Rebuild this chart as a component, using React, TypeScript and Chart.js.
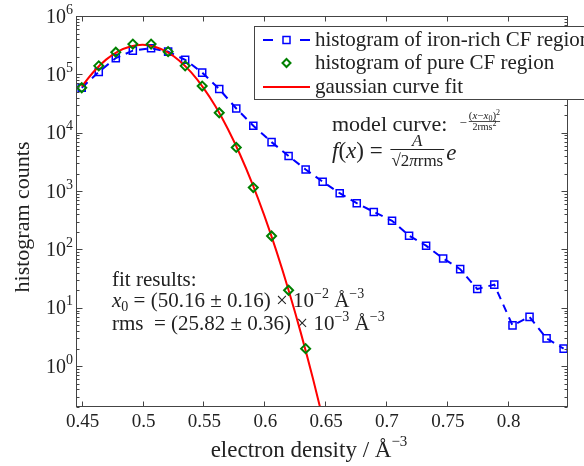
import React, { useEffect, useRef } from "react";
import { Chart, registerables } from "chart.js";

Chart.register(...registerables);

// ---- data ----
const binCenters = [
  0.450, 0.464, 0.478, 0.492, 0.507, 0.521, 0.535, 0.549, 0.563, 0.577,
  0.591, 0.606, 0.620, 0.634, 0.648, 0.662, 0.676, 0.690, 0.705, 0.719,
  0.733, 0.747, 0.761, 0.775, 0.789, 0.804, 0.818, 0.832, 0.846,
];
const ironRichCounts = [
  59000, 110000, 190000, 255000, 280000, 245000, 178000, 107000, 56000, 26000,
  13200, 6900, 4000, 2350, 1450, 920, 620, 440, 310, 172,
  116, 70, 46, 21, 25, 5, 7, 3, 2,
];
const pureCounts = [
  59000, 140000, 240000, 330000, 330000, 245000, 140000, 63000, 22000, 5600,
  1150, 170, 20, 2,
];
const fitX = [
  0.45, 0.46, 0.47, 0.48, 0.49, 0.5, 0.51, 0.52, 0.53, 0.54, 0.55,
  0.56, 0.57, 0.58, 0.59, 0.6, 0.61, 0.62, 0.63, 0.64, 0.65,
];
const fitY = [
  62000, 112000, 179000, 248000, 301000, 321000, 298000, 243000, 173000, 108000, 58700,
  28100, 11700, 4280, 1370, 383, 93.5, 20.0, 3.76, 0.615, 0.088,
];
const xTicks = [0.45, 0.5, 0.55, 0.6, 0.65, 0.7, 0.75, 0.8];
const xTickLabels = ["0.45", "0.5", "0.55", "0.6", "0.65", "0.7", "0.75", "0.8"];
const yTickExponents = [0, 1, 2, 3, 4, 5, 6];

const legendLabels = [
  "histogram of iron-rich CF region",
  "histogram of pure CF region",
  "gaussian curve fit",
];

const X_MIN = 0.4453;
const X_MAX = 0.8496;
const Y_MIN = 0.2;
const Y_MAX = 1e6;

const BLUE = "#0000ff";
const GREEN = "#008000";
const RED = "#ff0000";
const TEXT = "#222222";
const FRAME = "#444444";
const SERIF = '"Liberation Serif", "Times New Roman", serif';

type Part = [string, number, number, boolean?];

function fnt(size: number, italic?: boolean) {
  return `${italic ? "italic " : ""}${size}px ${SERIF}`;
}
function partsWidth(ctx: CanvasRenderingContext2D, parts: Part[]) {
  let w = 0;
  for (const [t, s, , it] of parts) {
    ctx.font = fnt(s, it);
    w += ctx.measureText(t).width;
  }
  return w;
}
function drawParts(ctx: CanvasRenderingContext2D, x: number, y: number, parts: Part[]) {
  let cx = x;
  for (const [t, s, dy, it] of parts) {
    ctx.font = fnt(s, it);
    ctx.fillText(t, cx, y + dy);
    cx += ctx.measureText(t).width;
  }
  return cx;
}

const decorPlugin = {
  id: "decor",
  beforeDatasetsDraw(chart: any) {
    const ctx: CanvasRenderingContext2D = chart.ctx;
    ctx.save();
    ctx.fillStyle = TEXT;
    ctx.textAlign = "left";
    ctx.textBaseline = "alphabetic";
    // model curve annotation
    drawParts(ctx, 332, 131, [["model curve:", 22, 0]]);
    let cx = drawParts(ctx, 332, 158, [
      ["f", 23, 0, true],
      ["(", 23, 0],
      ["x", 23, 0, true],
      [")", 23, 0],
      [" = ", 23, 0],
    ]);
    // fraction A / (sqrt(2 pi) rms)
    const denom: Part[] = [["√", 17, 0], ["2", 17, 0], ["π", 17, 0, true], ["rms", 17, 0]];
    const dw = partsWidth(ctx, denom);
    const fx = cx + 2;
    ctx.fillRect(fx, 149, dw + 2, 1);
    const num: Part[] = [["A", 17, 0, true]];
    const aw = partsWidth(ctx, num);
    drawParts(ctx, fx + (dw + 2 - aw) / 2, 146, num);
    drawParts(ctx, fx + 1, 166, denom);
    cx = fx + dw + 4;
    cx = drawParts(ctx, cx, 160, [["e", 23, 0, true]]);
    cx = drawParts(ctx, cx + 3, 127, [["−", 13, 0]]);
    const top: Part[] = [["(", 11, 0], ["x", 11, 0, true], ["−", 11, 0], ["x", 11, 0, true], ["0", 8, 2], [")", 11, 0], ["2", 8, -4]];
    const bot: Part[] = [["2rms", 10, 0], ["2", 8, -4]];
    const tw = partsWidth(ctx, top);
    const bw = partsWidth(ctx, bot);
    const sx = cx + 2;
    ctx.fillRect(sx, 121, Math.max(tw, bw), 0.8);
    drawParts(ctx, sx, 119, top);
    drawParts(ctx, sx + (tw - bw) / 2, 130, bot);

    // fit results annotation
    drawParts(ctx, 112, 286, [["fit results:", 21, 0]]);
    drawParts(ctx, 112, 307, [
      ["x", 21, 0, true],
      ["0", 14, 4],
      [" = (50.16 ± 0.16) × 10", 21, 0],
      ["−2", 14, -9],
      [" Å", 21, 0],
      ["−3", 14, -9],
    ]);
    drawParts(ctx, 112, 330, [
      ["rms  = (25.82 ± 0.36) × 10", 21, 0],
      ["−3", 14, -9],
      [" Å", 21, 0],
      ["−3", 14, -9],
    ]);
    ctx.restore();
  },
  afterDraw(chart: any) {
    const ctx: CanvasRenderingContext2D = chart.ctx;
    const area = chart.chartArea;
    const xs = chart.scales.x;
    const ys = chart.scales.y;
    ctx.save();
    // frame
    ctx.strokeStyle = FRAME;
    ctx.lineWidth = 1;
    const L = Math.round(area.left) + 0.5;
    const R = Math.round(area.right) - 0.5;
    const T = Math.round(area.top) + 0.5;
    const B = Math.round(area.bottom) - 0.5;
    ctx.strokeRect(L, T, R - L, B - T);
    // x ticks (inward, top and bottom)
    ctx.beginPath();
    xTicks.forEach((v) => {
      const px = Math.round(xs.getPixelForValue(v)) + 0.5;
      ctx.moveTo(px, B);
      ctx.lineTo(px, B - 5);
      ctx.moveTo(px, T);
      ctx.lineTo(px, T + 5);
    });
    // y ticks: major + minor (log)
    for (let e = -1; e <= 6; e++) {
      for (let m = 1; m <= 9; m++) {
        const v = m * Math.pow(10, e);
        if (v < Y_MIN || v > Y_MAX) continue;
        const py = Math.round(ys.getPixelForValue(v)) + 0.5;
        const len = m === 1 ? 6 : 3;
        ctx.moveTo(L, py);
        ctx.lineTo(L + len, py);
        ctx.moveTo(R, py);
        ctx.lineTo(R - len, py);
      }
    }
    ctx.stroke();

    // tick labels
    ctx.fillStyle = TEXT;
    ctx.textBaseline = "alphabetic";
    ctx.textAlign = "left";
    xTicks.forEach((v, i) => {
      const px = xs.getPixelForValue(v);
      const parts: Part[] = [[xTickLabels[i], 19, 0]];
      const w = partsWidth(ctx, parts);
      drawParts(ctx, px - w / 2 + 1, 427, parts);
    });
    yTickExponents.forEach((e) => {
      const py = ys.getPixelForValue(Math.pow(10, e));
      const parts: Part[] = [["10", 20, 0], [String(e), 14, -9]];
      const w = partsWidth(ctx, parts);
      drawParts(ctx, 73 - w, py + 6.5, parts);
    });

    // axis titles
    const xt: Part[] = [["electron density / Å", 23, 0], ["−3", 15, -11]];
    const xw = partsWidth(ctx, xt);
    drawParts(ctx, 309 - xw / 2, 457, xt);
    ctx.save();
    ctx.translate(29, 217);
    ctx.rotate(-Math.PI / 2);
    const yt: Part[] = [["histogram counts", 22, 0]];
    const yw = partsWidth(ctx, yt);
    drawParts(ctx, -yw / 2, 0, yt);
    ctx.restore();

    // legend
    ctx.fillStyle = "#ffffff";
    ctx.fillRect(254.5, 26.5, 400, 73);
    ctx.strokeStyle = FRAME;
    ctx.lineWidth = 1;
    ctx.strokeRect(254.5, 26.5, 400, 73);
    const rows = [40, 63, 87];
    // iron-rich sample
    ctx.strokeStyle = BLUE;
    ctx.lineWidth = 2;
    ctx.beginPath();
    ctx.moveTo(263, rows[0]);
    ctx.lineTo(273, rows[0]);
    ctx.moveTo(300, rows[0]);
    ctx.lineTo(310, rows[0]);
    ctx.stroke();
    ctx.lineWidth = 1.5;
    ctx.strokeRect(283, rows[0] - 3.5, 7, 7);
    // pure sample
    ctx.strokeStyle = GREEN;
    ctx.lineWidth = 2;
    ctx.beginPath();
    ctx.moveTo(286.5, rows[1] - 4);
    ctx.lineTo(290.5, rows[1]);
    ctx.lineTo(286.5, rows[1] + 4);
    ctx.lineTo(282.5, rows[1]);
    ctx.closePath();
    ctx.stroke();
    // fit sample
    ctx.strokeStyle = RED;
    ctx.lineWidth = 2;
    ctx.beginPath();
    ctx.moveTo(263, rows[2]);
    ctx.lineTo(310, rows[2]);
    ctx.stroke();
    ctx.fillStyle = TEXT;
    legendLabels.forEach((t, i) => {
      drawParts(ctx, 315, rows[i] + 6, [[t, 21, 0]]);
    });
    ctx.restore();
  },
};

export default function App() {
  const ref = useRef<HTMLCanvasElement | null>(null);
  useEffect(() => {
    document.body.style.margin = "0";
    const canvas = ref.current;
    if (!canvas) return;
    const chart = new Chart(canvas, {
      type: "scatter",
      data: {
        datasets: [
          {
            label: legendLabels[0],
            data: binCenters.map((x, i) => ({ x, y: ironRichCounts[i] })),
            showLine: true,
            borderColor: BLUE,
            borderWidth: 2,
            borderDash: [8, 6],
            pointStyle: "rect",
            pointRadius: 5,
            pointBorderWidth: 1.5,
            pointBorderColor: BLUE,
            pointBackgroundColor: "rgba(0,0,0,0)",
            order: 2,
          },
          {
            label: legendLabels[1],
            data: pureCounts.map((y, i) => ({ x: binCenters[i], y })),
            showLine: false,
            pointStyle: "rectRot",
            pointRadius: 4.5,
            pointBorderWidth: 2,
            pointBorderColor: GREEN,
            pointBackgroundColor: "rgba(0,0,0,0)",
            order: 0,
          },
          {
            label: legendLabels[2],
            data: fitX.map((x, i) => ({ x, y: fitY[i] })),
            showLine: true,
            borderColor: RED,
            borderWidth: 2,
            pointRadius: 0,
            cubicInterpolationMode: "monotone",
            order: 1,
          },
        ],
      },
      options: {
        responsive: false,
        animation: false,
        devicePixelRatio: 1,
        events: [],
        layout: { padding: { left: 76, right: 16, top: 16, bottom: 59 } },
        scales: {
          x: { type: "linear", min: X_MIN, max: X_MAX, display: false },
          y: { type: "logarithmic", min: Y_MIN, max: Y_MAX, display: false },
        },
        plugins: {
          legend: { display: false },
          tooltip: { enabled: false },
        },
      },
      plugins: [decorPlugin],
    } as any);
    return () => chart.destroy();
  }, []);
  return (
    <div style={{ width: 584, height: 466 }}>
      <canvas ref={ref} width={584} height={466} style={{ display: "block" }} />
    </div>
  );
}
